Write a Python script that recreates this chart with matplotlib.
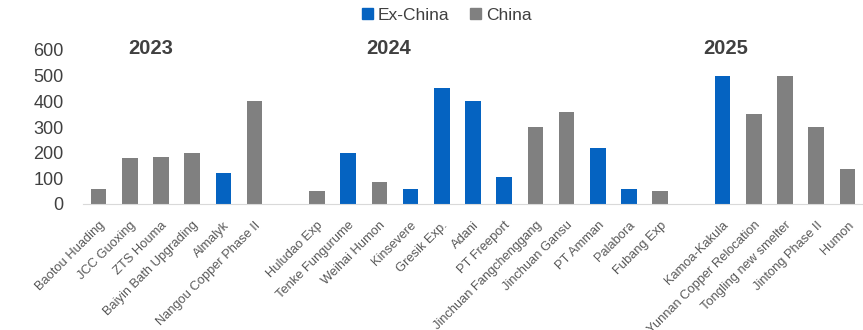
import numpy as np
import matplotlib.pyplot as plt
from matplotlib.patches import Patch

plt.rcParams['font.family'] = ['Liberation Sans', 'DejaVu Sans']

labels = ['Baotou Huading', 'JCC Guoxing', 'ZTS Houma', 'Baiyin Bath Upgrading', 'Almalyk',
          'Nangou Copper Phase II', '',
          'Huludao Exp', 'Tenke Fungurume', 'Weihai Humon', 'Kinsevere', 'Gresik Exp.', 'Adani',
          'PT Freeport', 'Jinchuan Fangchenggang', 'Jinchuan Gansu', 'PT Amman', 'Palabora',
          'Fubang Exp', '',
          'Kamoa-Kakula', 'Yunnan Copper Relocation', 'Tongling new smelter', 'Jintong Phase II', 'Humon']
values = [60, 180, 185, 200, 120, 400, 0,
          50, 200, 85, 60, 450, 400, 105, 300, 360, 220, 60, 50, 0,
          500, 350, 500, 300, 135]
region = ['C', 'C', 'C', 'C', 'X', 'C', '',
          'C', 'X', 'C', 'X', 'X', 'X', 'X', 'C', 'C', 'X', 'X', 'C', '',
          'X', 'C', 'C', 'C', 'C']
years = ['2023', '2024', '2025']
year_pos = [1.66, 9.3, 20.1]

blue = '#0563C1'
grey = '#808080'
colors = [blue if r == 'X' else grey for r in region]

fig = plt.figure(figsize=(8.63, 3.3), dpi=100)
ax = fig.add_axes([83/863, 1-204/330, 1-83/863, 154/330])

x = np.arange(len(values))
ax.bar(x, values, width=0.5, color=colors)
ax.set_xlim(-0.5, len(values)-0.5)
ax.set_ylim(0, 600)
ax.set_yticks(range(0, 601, 100))
ax.tick_params(axis='y', length=0, labelsize=13, labelcolor='#404040', pad=14)
ax.set_xticks(x)
ax.set_xticklabels(labels, rotation=45, ha='right', rotation_mode='anchor',
                   fontsize=9.3, color='#595959')
ax.tick_params(axis='x', length=0, pad=11)
for s in ['top', 'right', 'left']:
    ax.spines[s].set_visible(False)
ax.spines['bottom'].set_color('#D9D9D9')

for yr, p in zip(years, year_pos):
    ax.text(p, 606, yr, ha='center', va='center', fontsize=14.5, fontweight='bold',
            color='#404040', clip_on=False)

handles = [Patch(color=blue, label='Ex-China'), Patch(color=grey, label='China')]
fig.legend(handles=handles, loc='center', bbox_to_anchor=(447/863, 1-15/330), ncol=2,
           frameon=False, fontsize=12.5, handlelength=0.6, handleheight=0.6,
           handletextpad=0.3, columnspacing=1.2, labelcolor='#404040')

fig.savefig('out.png', dpi=100)
